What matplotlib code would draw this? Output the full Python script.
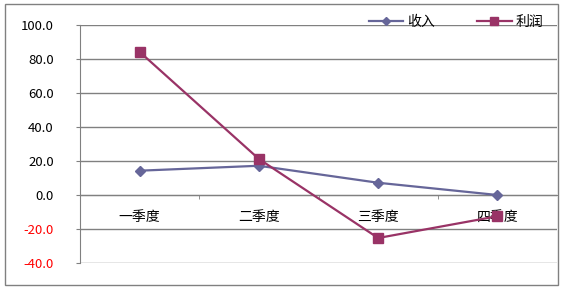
import matplotlib
matplotlib.use("Agg")
import matplotlib.pyplot as plt
from matplotlib.patches import Rectangle
from matplotlib.ticker import FixedLocator

plt.rcParams['font.family'] = ['Noto Sans CJK SC', 'DejaVu Sans']

categories = ['一季度', '二季度', '三季度', '四季度']
revenue = [14.3, 17.2, 7.2, 0.0]
profit = [84.2, 21.2, -25.3, -12.5]
yticks = [-40, -20, 0, 20, 40, 60, 80, 100]
series_names = ['收入', '利润']

W, H = 564, 289
fig = plt.figure(figsize=(W / 100, H / 100), dpi=100)
fig.patch.set_facecolor('white')
fig.patches.append(Rectangle((5 / W, 1 - 285 / H), 553 / W, 281 / H, transform=fig.transFigure,
                             fill=False, edgecolor='#808080', linewidth=1))

ax = fig.add_axes([80 / W, 1 - 263 / H, (557 - 80) / W, (263 - 25) / H])
ax.set_facecolor('none')
ax.set_ylim(-40, 100)
ax.set_xlim(-0.5, 3.5)
for s in ['top', 'right']:
    ax.spines[s].set_visible(False)
ax.spines['left'].set_color('#808080')
ax.spines['bottom'].set_position(('data', 0))
ax.spines['bottom'].set_color('#808080')
ax.set_yticks(yticks)
ax.set_yticklabels([f'{v:.1f}' for v in yticks])
for lbl, v in zip(ax.get_yticklabels(), yticks):
    lbl.set_color('red' if v < 0 else 'black')
ax.tick_params(axis='y', length=3, color='#808080', pad=16, labelsize=9.5)
ax.grid(axis='y', color='#808080', linewidth=1)
ax.set_axisbelow(True)

x = list(range(len(categories)))
ax.set_xticks(x)
ax.set_xticklabels(categories)
ax.tick_params(axis='x', which='major', length=0, pad=11, labelsize=10)
ax.xaxis.set_minor_locator(FixedLocator([0.5, 1.5, 2.5]))
ax.tick_params(axis='x', which='minor', length=3, color='#808080', direction='out')

ax.plot(x, revenue, color='#666699', linewidth=1.6, marker='D', markersize=5.5, label=series_names[0], zorder=3)
ax.plot(x, profit, color='#993366', linewidth=1.6, marker='s', markersize=7, label=series_names[1], zorder=4)

leg = fig.legend(loc='center', bbox_to_anchor=(456 / W, 1 - 22 / H), ncol=2, frameon=False,
                 fontsize=10, handlelength=2.5, columnspacing=3.0, handletextpad=0.3,
                 borderaxespad=0, borderpad=0, markerscale=0.75)

fig.savefig('out.png', dpi=100)
